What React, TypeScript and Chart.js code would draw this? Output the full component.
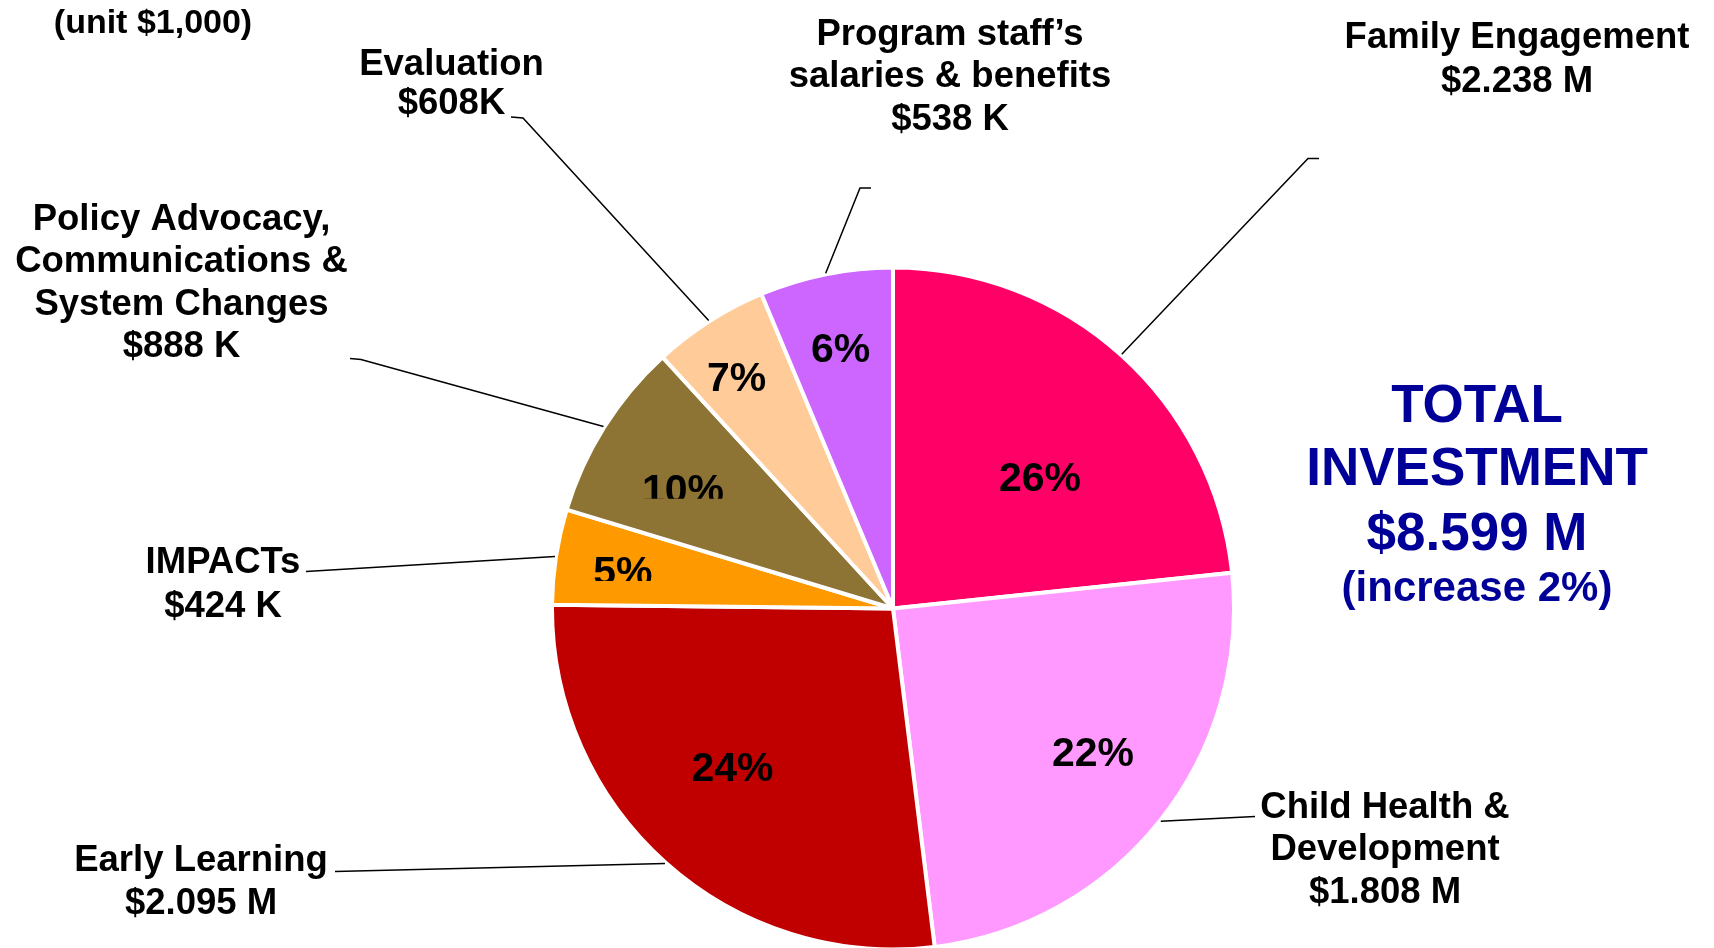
import React, { useEffect, useRef } from 'react';
import { Chart, registerables } from 'chart.js';

Chart.register(...registerables);

// ---------- data ----------
const categories = [
  'Family Engagement',
  'Child Health & Development',
  'Early Learning',
  'IMPACTs',
  'Policy Advocacy, Communications & System Changes',
  'Evaluation',
  "Program staff's salaries & benefits",
];
// share of the pie as drawn (percent of the circle)
const sliceShares = [23.3, 24.7, 27.1, 4.5, 8.5, 5.5, 6.3];
// percentages printed inside the slices
const pctLabels = ['26%', '22%', '24%', '5%', '10%', '7%', '6%'];
// amounts printed next to each category
const amountLabels = ['$2.238 M', '$1.808 M', '$2.095 M', '$424 K', '$888 K', '$608K', '$538 K'];
const nameLines = [
  ['Family Engagement'],
  ['Child Health &', 'Development'],
  ['Early Learning'],
  ['IMPACTs'],
  ['Policy Advocacy,', 'Communications &', 'System Changes'],
  ['Evaluation'],
  ['Program staff\u2019s', 'salaries & benefits'],
];
const totalLines = ['TOTAL', 'INVESTMENT', '$8.599 M', '(increase 2%)'];
const unitNote = '(unit $1,000)';

// ---------- styles ----------
const sliceColors = ['#FF0066', '#FF99FF', '#C00000', '#FF9900', '#8D7334', '#FFCC99', '#CC66FF'];
const FONT = '"Liberation Sans", Arial, Helvetica, sans-serif';

// inside-label placement: fraction of radius, angular nudge (deg), bottom clip (px)
const pctPlace = [
  [0.58, 6, 0],
  [0.72, -3, 0],
  [0.66, 3.7, 0],
  [0.8, -0.7, 4],
  [0.71, -2.3, 4],
  [0.82, -1.4, 0],
  [0.78, 0, 0],
];

// outside label placement: center x, first baseline, line height, leader start points
const outPlace: { x: number; y: number; lh: number; lead: number[][] }[] = [
  { x: 1517, y: 48, lh: 43.8, lead: [[1319, 158.5], [1308, 158.5]] },
  { x: 1385, y: 817.6, lh: 42.7, lead: [[1255, 816.5]] },
  { x: 201, y: 871, lh: 42.6, lead: [[335, 871.5]] },
  { x: 223, y: 572.8, lh: 43.7, lead: [[306, 571.6]] },
  { x: 181.5, y: 229.5, lh: 42.6, lead: [[350, 358.5], [361, 359.6]] },
  { x: 451.5, y: 75, lh: 38.5, lead: [[511, 117], [523, 118]] },
  { x: 950, y: 44.8, lh: 42.6, lead: [[871, 188], [860, 188]] },
];

const labelPlugin = {
  id: 'pieLabels',
  afterDatasetsDraw(chart: any) {
    const ctx: CanvasRenderingContext2D = chart.ctx;
    const arcs = chart.getDatasetMeta(0).data;
    ctx.save();

    // leader lines
    ctx.strokeStyle = '#000';
    ctx.lineWidth = 1.5;
    arcs.forEach((arc: any, i: number) => {
      const p = arc.getProps(['x', 'y', 'startAngle', 'endAngle', 'outerRadius'], true);
      const mid = (p.startAngle + p.endAngle) / 2;
      const ex = p.x + (p.outerRadius + 1) * Math.cos(mid);
      const ey = p.y + (p.outerRadius + 1) * Math.sin(mid);
      const pts = outPlace[i].lead;
      ctx.beginPath();
      ctx.moveTo(pts[0][0], pts[0][1]);
      for (let k = 1; k < pts.length; k++) ctx.lineTo(pts[k][0], pts[k][1]);
      ctx.lineTo(ex, ey);
      ctx.stroke();
    });

    // percentages inside slices
    const pSize = 41;
    ctx.font = `bold ${pSize}px ${FONT}`;
    ctx.fillStyle = '#000';
    ctx.textAlign = 'center';
    ctx.textBaseline = 'alphabetic';
    arcs.forEach((arc: any, i: number) => {
      const p = arc.getProps(['x', 'y', 'startAngle', 'endAngle', 'outerRadius'], true);
      const [rf, dAng, clipB] = pctPlace[i];
      const a = (p.startAngle + p.endAngle) / 2 + (dAng * Math.PI) / 180;
      const r = rf * p.outerRadius;
      const cx = p.x + r * Math.cos(a);
      const cy = p.y + r * Math.sin(a);
      const base = cy + 0.358 * pSize;
      ctx.save();
      if (clipB) {
        ctx.beginPath();
        ctx.rect(cx - 100, cy - 60, 200, base - clipB - (cy - 60));
        ctx.clip();
      }
      ctx.fillText(pctLabels[i], cx, base);
      ctx.restore();
    });

    // category names and amounts
    const oSize = 36.5;
    ctx.font = `bold ${oSize}px ${FONT}`;
    outPlace.forEach((pl, i) => {
      const lines = [...nameLines[i], amountLabels[i]];
      lines.forEach((t, k) => ctx.fillText(t, pl.x, pl.y + k * pl.lh));
    });

    // unit note
    ctx.font = `bold 34px ${FONT}`;
    ctx.fillText(unitNote, 153, 33);

    // total investment block
    ctx.fillStyle = '#000099';
    ctx.font = `bold 53px ${FONT}`;
    ctx.fillText(totalLines[0], 1477, 421.7);
    ctx.fillText(totalLines[1], 1477, 485);
    ctx.fillText(totalLines[2], 1477, 550);
    ctx.font = `bold 42px ${FONT}`;
    ctx.fillText(totalLines[3], 1477, 601);

    ctx.restore();
  },
};

export default function App() {
  const ref = useRef<HTMLCanvasElement | null>(null);
  useEffect(() => {
    if (!ref.current) return;
    const chart = new Chart(ref.current, {
      type: 'pie',
      data: {
        labels: categories,
        datasets: [
          {
            data: sliceShares,
            backgroundColor: sliceColors,
            borderColor: '#FFFFFF',
            borderWidth: 4,
            radius: 341,
            clip: false,
          } as any,
        ],
      },
      options: {
        responsive: false,
        animation: false,
        events: [],
        layout: { padding: { left: 202, right: 130, top: 269, bottom: 0 } },
        plugins: { legend: { display: false }, tooltip: { enabled: false } },
      },
      plugins: [labelPlugin],
    });
    return () => chart.destroy();
  }, []);
  return (
    <div style={{ position: 'fixed', left: 0, top: 0, width: 1714, height: 948, background: '#fff' }}>
      <canvas ref={ref} width={1714} height={948} style={{ display: 'block' }} />
    </div>
  );
}
